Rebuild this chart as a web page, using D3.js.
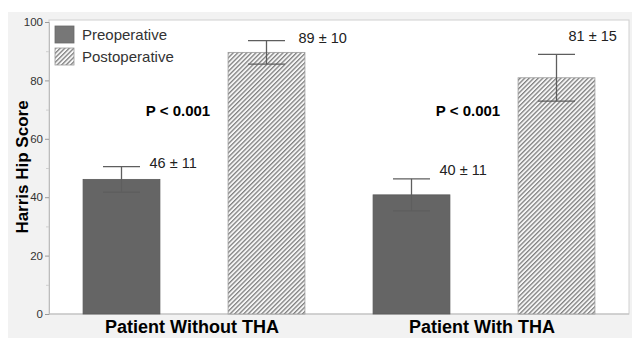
<!DOCTYPE html>
<html>
<head>
<meta charset="utf-8">
<script src="https://cdn.jsdelivr.net/npm/d3@7"></script>
<style>
  html, body { margin: 0; padding: 0; background: #fff; }
  svg { display: block; font-family: "Liberation Sans", Arial, Helvetica, sans-serif; }
</style>
</head>
<body>
<div id="chart"></div>
<script>
// groups and series
const groups = ["Patient Without THA", "Patient With THA"];
const series = ["Preoperative", "Postoperative"];

// bar heights and error bar half-lengths as drawn
const preMeans = [46.1, 40.8];
const postMeans = [89.6, 80.9];
const preErr = [4.4, 5.5];
const postErr = [4.0, 8.0];

// text shown above the bars
const preLabels = ["46 ± 11", "40 ± 11"];
const postLabels = ["89 ± 10", "81 ± 15"];
const pLabels = ["P < 0.001", "P < 0.001"];

const yTicks = [0, 20, 40, 60, 80, 100];
const yMinor = [10, 30, 50, 70, 90];

const width = 632, height = 338;
const plot = { left: 49, right: 629, top: 20, bottom: 314 };

// rows for the bars
const rows = [];
groups.forEach((g, i) => {
  rows.push({ group: g, s: series[0], mean: preMeans[i], err: preErr[i], label: preLabels[i] });
  rows.push({ group: g, s: series[1], mean: postMeans[i], err: postErr[i], label: postLabels[i] });
});
// hand nudges for value labels (dx from bar centre, dy from cap top)
const labelNudge = [[28, 1], [32, 2], [28, -4], [12, -13]];

const svg = d3.select("#chart").append("svg")
  .attr("width", width)
  .attr("height", height);

const defs = svg.append("defs");
const pat = defs.append("pattern")
  .attr("id", "hatch")
  .attr("patternUnits", "userSpaceOnUse")
  .attr("width", 3.2)
  .attr("height", 3.2)
  .attr("patternTransform", "rotate(45)");
pat.append("rect").attr("width", 3.2).attr("height", 3.2).attr("fill", "#f6f6f6");
pat.append("rect").attr("width", 1.3).attr("height", 3.2).attr("fill", "#808080");

// grey panel behind the chart
svg.append("rect")
  .attr("x", 8).attr("y", 12)
  .attr("width", width - 8).attr("height", height - 12)
  .attr("fill", "#f2f2f2");

// white plot area
svg.append("rect")
  .attr("x", plot.left).attr("y", plot.top)
  .attr("width", plot.right - plot.left).attr("height", plot.bottom - plot.top)
  .attr("fill", "#fff")
  .attr("stroke", "#d0d0d0")
  .attr("stroke-width", 1);

const x0 = d3.scaleBand().domain(groups).range([plot.left, plot.right]).padding(0);
const x1 = d3.scaleBand().domain(series).range([0, x0.bandwidth()])
  .paddingInner(0.47).paddingOuter(0.235);
const y = d3.scaleLinear().domain([0, 100]).range([plot.bottom, 22]);

// y axis
const yAxis = svg.append("g")
  .attr("transform", `translate(${plot.left},0)`)
  .call(d3.axisLeft(y).tickValues(yTicks).tickSize(4).tickPadding(2));
yAxis.select(".domain").attr("stroke", "#bdbdbd");
yAxis.selectAll(".tick line").attr("stroke", "#9a9a9a");
yAxis.selectAll(".tick text")
  .attr("fill", "#333")
  .style("font-size", "11.5px")
  .style("font-family", "'Liberation Sans', Arial, sans-serif");

svg.append("g")
  .attr("transform", `translate(${plot.left},0)`)
  .call(d3.axisLeft(y).tickValues(yMinor).tickSize(3).tickFormat(""))
  .call(g => g.select(".domain").remove())
  .selectAll(".tick line").attr("stroke", "#cfcfcf");

// bottom axis line
svg.append("line")
  .attr("x1", plot.left).attr("x2", plot.right)
  .attr("y1", plot.bottom).attr("y2", plot.bottom)
  .attr("stroke", "#bdbdbd");

// bars
const cx = d => x0(d.group) + x1(d.s) + x1.bandwidth() / 2;

svg.append("g").selectAll("rect")
  .data(rows)
  .join("rect")
  .attr("x", d => x0(d.group) + x1(d.s))
  .attr("y", d => y(d.mean))
  .attr("width", x1.bandwidth())
  .attr("height", d => y(0) - y(d.mean))
  .attr("fill", d => d.s === series[0] ? "#656565" : "url(#hatch)")
  .attr("stroke", d => d.s === series[0] ? "#5a5a5a" : "#9a9a9a")
  .attr("stroke-width", 0.8);

// error bars
const capHalf = 18.5;
const eb = svg.append("g").attr("stroke", "#5e5e5e").attr("stroke-width", 1.3);
eb.selectAll("line.v").data(rows).join("line").attr("class", "v")
  .attr("x1", cx).attr("x2", cx)
  .attr("y1", d => y(d.mean + d.err)).attr("y2", d => y(d.mean - d.err));
eb.selectAll("line.t").data(rows).join("line").attr("class", "t")
  .attr("x1", d => cx(d) - capHalf).attr("x2", d => cx(d) + capHalf)
  .attr("y1", d => y(d.mean + d.err)).attr("y2", d => y(d.mean + d.err));
eb.selectAll("line.b").data(rows).join("line").attr("class", "b")
  .attr("x1", d => cx(d) - capHalf).attr("x2", d => cx(d) + capHalf)
  .attr("y1", d => y(d.mean - d.err)).attr("y2", d => y(d.mean - d.err));

// value labels
svg.append("g").selectAll("text")
  .data(rows)
  .join("text")
  .attr("x", (d, i) => cx(d) + labelNudge[i][0])
  .attr("y", (d, i) => y(d.mean + d.err) + labelNudge[i][1])
  .attr("fill", "#222")
  .style("font-size", "14.5px")
  .text(d => d.label);

// p values
svg.append("g").selectAll("text")
  .data(groups)
  .join("text")
  .attr("x", (g, i) => x0(g) + x0.bandwidth() / 2 - 16)
  .attr("y", y(60) - 23)
  .attr("text-anchor", "middle")
  .attr("fill", "#000")
  .style("font-size", "15px")
  .style("font-weight", "bold")
  .text((g, i) => pLabels[i]);

// x category labels
svg.append("g").selectAll("text")
  .data(groups)
  .join("text")
  .attr("x", g => x0(g) + x0.bandwidth() / 2 - 2)
  .attr("y", 333)
  .attr("text-anchor", "middle")
  .attr("fill", "#000")
  .style("font-size", "18px")
  .style("font-weight", "bold")
  .text(g => g);

// y title
svg.append("text")
  .attr("transform", `translate(28,${(plot.top + plot.bottom) / 2}) rotate(-90)`)
  .attr("text-anchor", "middle")
  .attr("fill", "#000")
  .style("font-size", "17px")
  .style("font-weight", "bold")
  .text("Harris Hip Score");

// legend
const legend = svg.append("g").attr("transform", "translate(55,26)");
series.forEach((s, i) => {
  const row = legend.append("g").attr("transform", `translate(0,${i * 22})`);
  row.append("rect")
    .attr("width", 19).attr("height", 17)
    .attr("fill", i === 0 ? "#777" : "url(#hatch)")
    .attr("stroke", i === 0 ? "#6a6a6a" : "#9a9a9a")
    .attr("stroke-width", 0.8);
  row.append("text")
    .attr("x", 27).attr("y", 14)
    .attr("fill", "#333")
    .style("font-size", "15px")
    .text(s);
});
</script>
</body>
</html>
